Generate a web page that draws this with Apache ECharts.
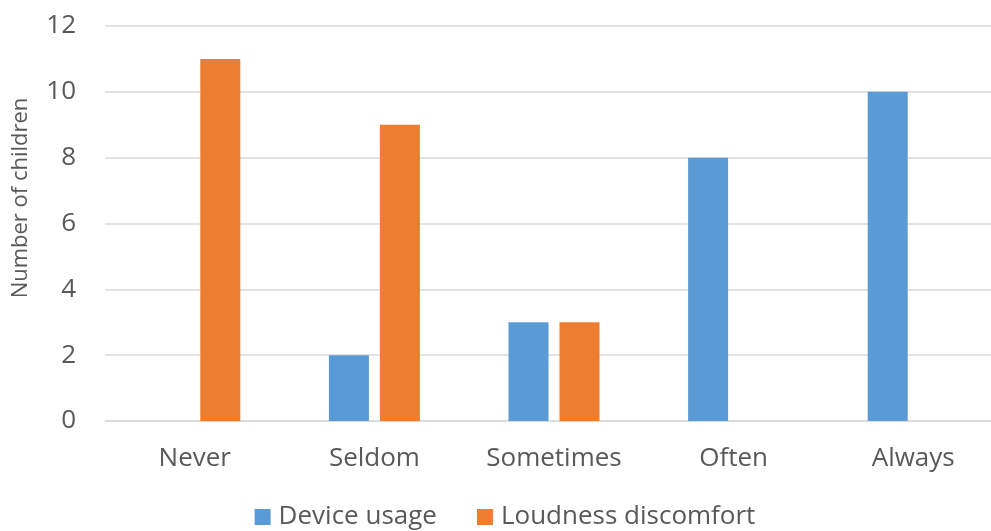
<!DOCTYPE html>
<html>
<head>
<meta charset="utf-8">
<style>
  html, body { margin: 0; padding: 0; background: #ffffff; overflow: hidden; }
  #wrap { width: 991px; height: 531px; overflow: hidden; }
  #chart { width: 1010px; height: 531px; }
</style>
<script src="https://cdn.jsdelivr.net/npm/echarts@6/dist/echarts.min.js"></script>
</head>
<body>
<div id="wrap"><div id="chart"></div></div>
<script>
// Frequency categories and number of children per answer
const categories = ['Never', 'Seldom', 'Sometimes', 'Often', 'Always'];
const deviceUsage = [0, 2, 3, 8, 10];
const loudnessDiscomfort = [11, 9, 3, 0, 0];
const yTicks = { min: 0, max: 12, step: 2 };
const yTitle = 'Number of children';

const textColor = '#595959';
const fontFamily = '"Open Sans", "Noto Sans", sans-serif';

const chart = echarts.init(document.getElementById('chart'), null, { renderer: 'canvas' });

chart.setOption({
  animation: false,
  backgroundColor: '#ffffff',
  textStyle: { fontFamily: fontFamily, color: textColor },
  grid: { left: 105, right: 7, top: 26, height: 395, containLabel: false },
  legend: {
    top: 499,
    left: 'center',
    itemWidth: 16,
    itemHeight: 16,
    itemGap: 40,
    icon: 'rect',
    textStyle: { fontFamily: fontFamily, fontSize: 26, color: textColor, padding: [0, 0, 0, 3] },
    data: ['Device usage', 'Loudness discomfort']
  },
  // rotated value-axis title, placed a little above the plot's middle
  graphic: [{
    type: 'text',
    x: 21,
    y: 198,
    rotation: Math.PI / 2,
    style: {
      text: yTitle,
      fontFamily: fontFamily,
      fontSize: 22,
      fill: textColor,
      align: 'center',
      verticalAlign: 'middle'
    }
  }],
  xAxis: {
    type: 'category',
    data: categories,
    axisLine: { lineStyle: { color: '#D9D9D9', width: 1.5 } },
    axisTick: { show: false },
    axisLabel: { fontFamily: fontFamily, fontSize: 26, color: textColor, margin: 25 }
  },
  yAxis: {
    type: 'value',
    min: yTicks.min,
    max: yTicks.max,
    interval: yTicks.step,
    axisLine: { show: false },
    axisTick: { show: false },
    axisLabel: { fontFamily: fontFamily, fontSize: 26, color: textColor, margin: 29 },
    splitLine: { lineStyle: { color: '#D9D9D9', width: 1.5 } }
  },
  series: [
    {
      name: 'Device usage',
      type: 'bar',
      data: deviceUsage,
      barWidth: 40,
      barGap: '27.5%',
      itemStyle: { color: '#5B9BD5' }
    },
    {
      name: 'Loudness discomfort',
      type: 'bar',
      data: loudnessDiscomfort,
      barWidth: 40,
      barGap: '27.5%',
      itemStyle: { color: '#ED7D31' }
    }
  ]
});
</script>
</body>
</html>
